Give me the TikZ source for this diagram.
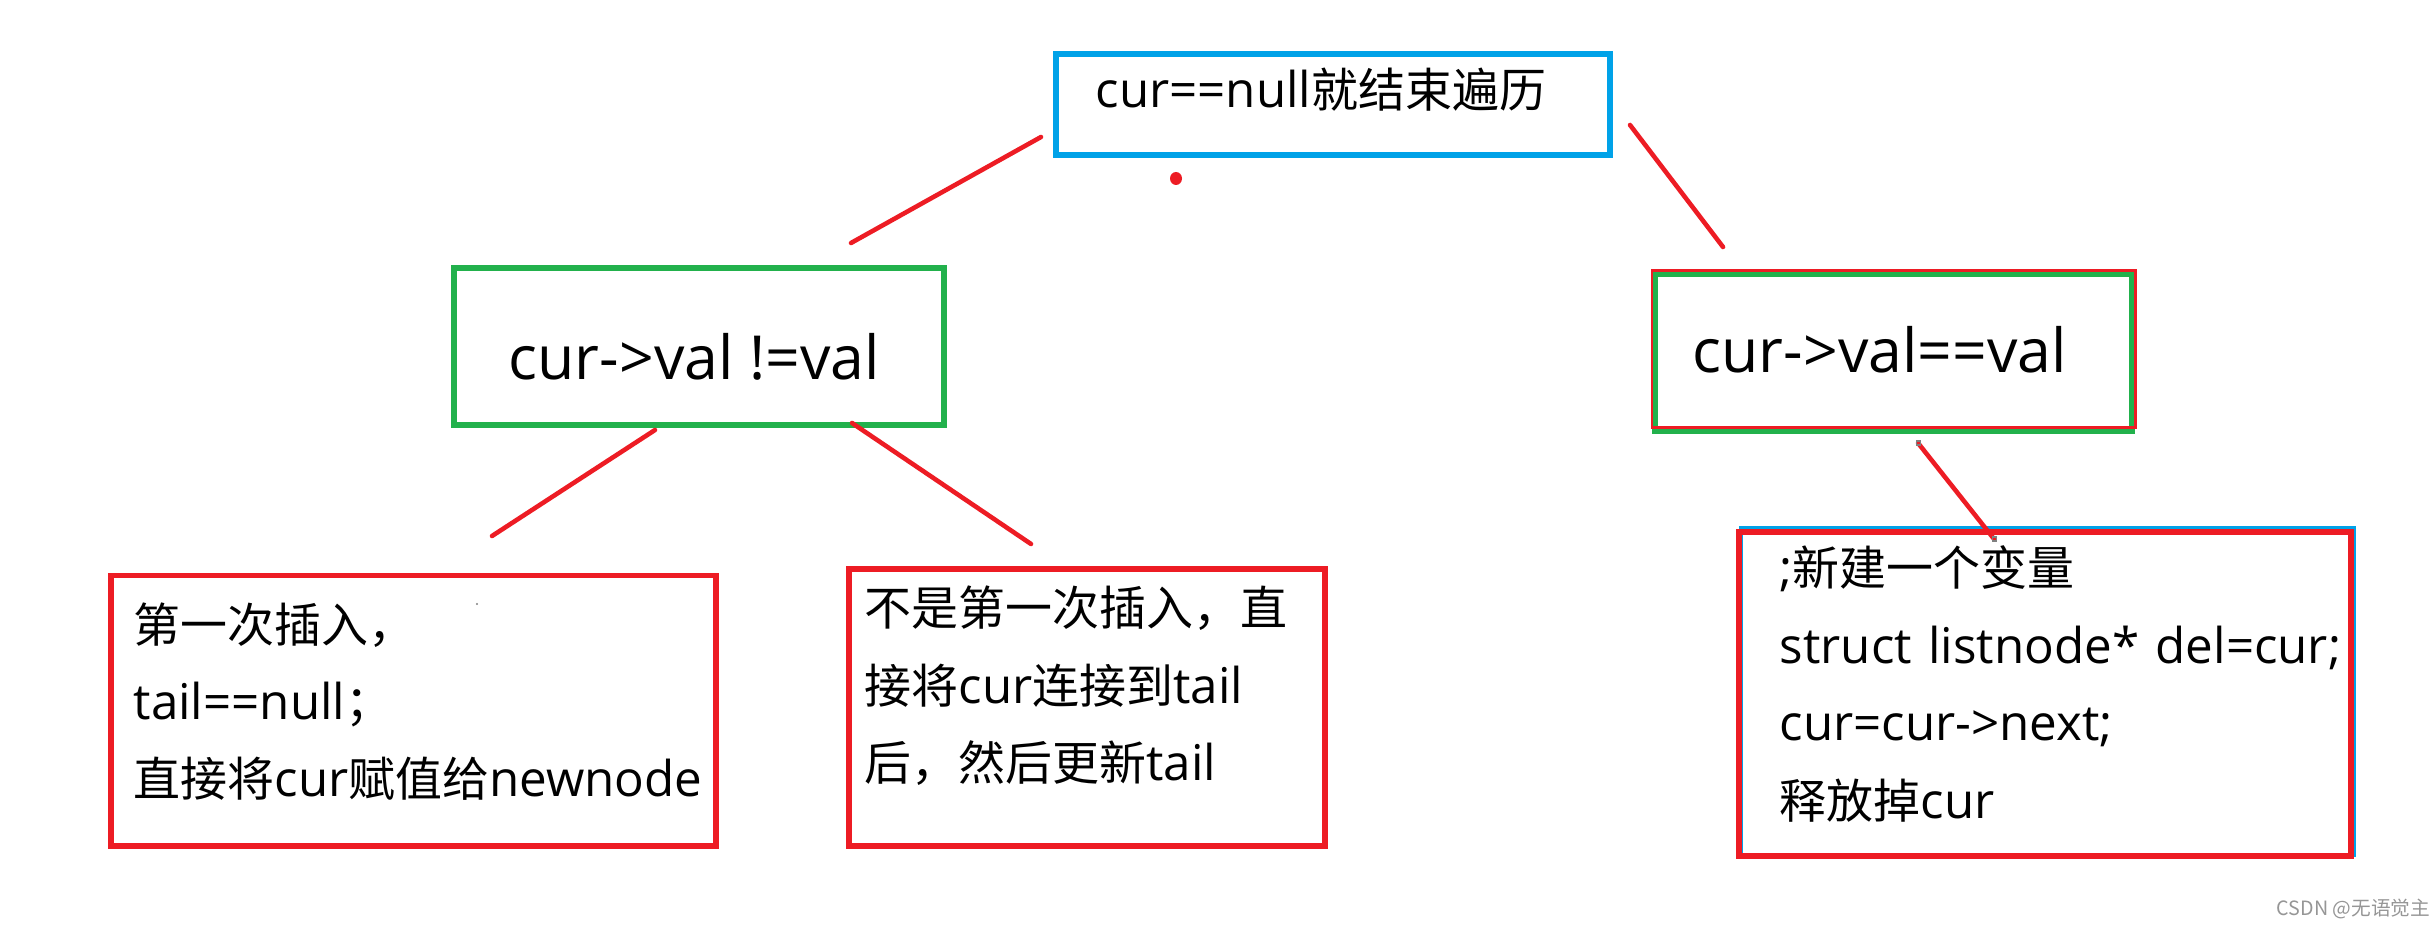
\documentclass[tikz,border=0pt]{standalone}
\usepackage{fontspec}
\setmainfont{Open Sans}[Scale=1.05]
\newfontfamily\cjk{Noto Sans CJK SC}
\usetikzlibrary{positioning}
\definecolor{paintblue}{RGB}{0,162,232}
\definecolor{paintgreen}{RGB}{34,177,76}
\definecolor{paintred}{RGB}{237,28,36}
\definecolor{markgray}{RGB}{150,150,150}
\newcommand{\zh}[1]{{\cjk #1}}

\begin{document}
\begin{tikzpicture}[x=0.01cm, y=-0.01cm,
    frame/.style={rectangle, draw, inner sep=0pt, outer sep=0pt},
    boxtext/.style={anchor=base west, inner sep=0pt, align=left, text width=6.5cm, font=\fontsize{13.35pt}{22pt}\selectfont},
    bigtext/.style={anchor=base west, inner sep=0pt, font=\fontsize{16.45pt}{19pt}\selectfont},
    branch/.style={draw=paintred, line width=1.3pt, line cap=round}]
  \useasboundingbox (0,0) rectangle (2431,928);
  %boxes
  \node[frame, draw=paintblue, line width=1.7pt, minimum width=5.54cm, minimum height=1.01cm] (stop) at (1333,104.5) {};
  \node[frame, draw=paintgreen, line width=1.6pt, minimum width=4.9cm, minimum height=1.57cm] (noteq) at (699,346.5) {};
  \node[frame, draw=paintgreen, line width=1.7pt, minimum width=4.765cm, minimum height=1.565cm] (eq) at (1893.75,352.75) {};
  \node[frame, draw=paintred, line width=0.7pt, minimum width=4.835cm, minimum height=1.57cm] (eqred) at (1893.75,349) {};
  \node[frame, draw=paintred, line width=1.6pt, minimum width=6.05cm, minimum height=2.705cm] (first) at (413.5,710.75) {};
  \node[frame, draw=paintred, line width=1.55pt, minimum width=4.76cm, minimum height=2.77cm] (later) at (1087,707.5) {};
  \node[frame, draw=paintblue, line width=1pt, minimum width=6.135cm, minimum height=3.27cm] (delblue) at (2047.75,691.5) {};
  \node[frame, draw=paintred, line width=1.6pt, minimum width=6.12cm, minimum height=3.24cm] (del) at (2045,694) {};
  %texts
  \node[boxtext] (stoptext) at (1095,108) {cur==null\zh{就结束遍历}};
  \node[bigtext] (noteqtext) at (508,380) {cur->val !=val};
  \node[bigtext] (eqtext) at (1692,373) {cur->val==val};
  \node[boxtext] (firsttext) at (133,642) {\zh{第一次插入，}\\tail==null\zh{；}\\\zh{直接将}cur\zh{赋值给}newnode};
  \node[boxtext] (latertext) at (864,626) {\zh{不是第一次插入，直}\\\zh{接将}cur\zh{连接到}tail\\\zh{后，然后更新}tail};
  \node[boxtext] (deltext) at (1779,586) {;\zh{新建一个变量}\\struct listnode* del=cur;\\cur=cur->next;\\\zh{释放掉}cur};
  \node[anchor=base west, inner sep=0pt, text=markgray, font=\cjk\fontsize{5.6pt}{6pt}\selectfont] (mark) at (2276,915) {CSDN @无语觉主};
  %edges
  \coordinate (stop-l) at (1041,137);
  \coordinate (noteq-t) at (851,243);
  \coordinate (stop-r) at (1630,125);
  \coordinate (eq-t) at (1723,247);
  \coordinate (noteq-l) at (655,430);
  \coordinate (first-t) at (492,536);
  \coordinate (noteq-r) at (852,423);
  \coordinate (later-t) at (1031,544);
  \coordinate (eq-b) at (1918,443);
  \coordinate (del-t) at (1994,539);
  \path [branch] (stop-l) to (noteq-t);
  \path [branch] (stop-r) to (eq-t);
  \path [branch] (noteq-l) to (first-t);
  \path [branch] (noteq-r) to (later-t);
  \path [branch] (eq-b) to (del-t);
  %marks
  \fill[paintred] (1176,178.5) ellipse [x radius=6, y radius=6.5];
  \fill[gray] (477,604) circle [radius=1.2];
  \draw[gray, line width=0.3pt] (1916,441) rectangle (1920,445);
  \draw[gray, line width=0.3pt] (1992,537) rectangle (1996,541);
\end{tikzpicture}
\end{document}
